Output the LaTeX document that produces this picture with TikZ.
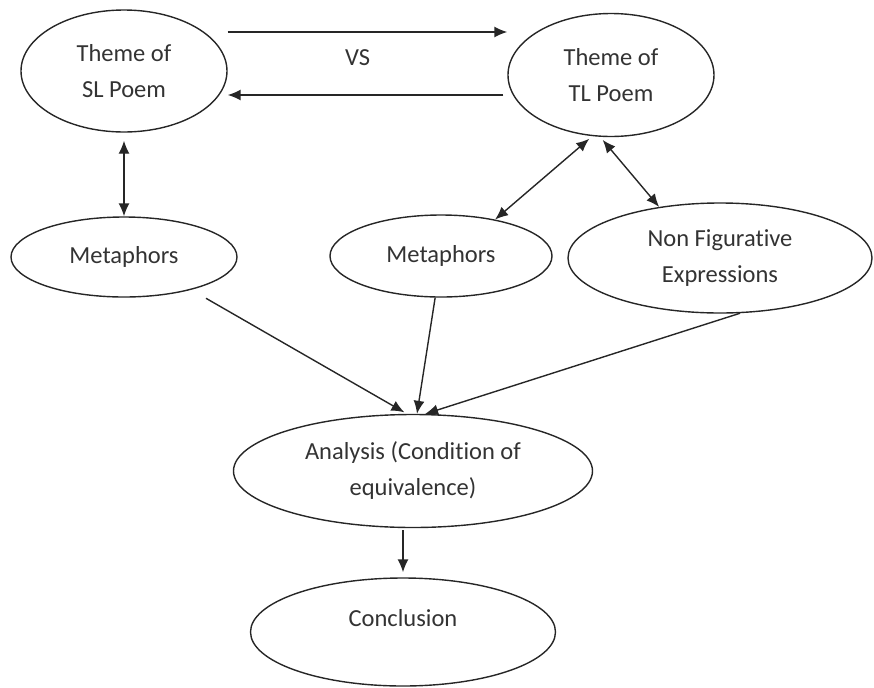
\documentclass[tikz,border=0pt]{standalone}
\usepackage{fontspec}
\setmainfont{Carlito}[Ligatures=NoCommon]
\usepackage{tikz}
\usetikzlibrary{shapes.geometric, arrows.meta, positioning}

\begin{document}
\begin{tikzpicture}[>={Latex[length=6.5pt,width=5.5pt]}, line width=0.7pt, draw=black!85,
        bubble/.style={ellipse, draw=black!85, inner sep=0pt, align=center, text=black!80,
            font=\fontsize{12.25}{18}\selectfont}]
        \useasboundingbox (-62pt,35.5pt) rectangle (375pt,-308pt);

        \node[bubble, minimum width=103pt, minimum height=61pt] (SL) at (0,0) {Theme of\\SL Poem};
        \node[bubble, minimum width=103pt, minimum height=61.5pt] (TL) [right of=SL, node distance=243.5pt, yshift=-2pt] {Theme of\\TL Poem};
        \node[bubble, minimum width=113pt, minimum height=40pt] (MetL) [below of=SL, node distance=93pt] {Metaphors};
        \node[bubble, minimum width=111pt, minimum height=41pt] (MetM) [below of=TL, node distance=90.5pt, xshift=-85pt] {Metaphors};
        \node[bubble, minimum width=152pt, minimum height=55pt] (NonFig) [below of=TL, node distance=91.5pt, xshift=54.5pt] {Non Figurative\\Expressions};
        \node[bubble, minimum width=179.5pt, minimum height=56.5pt] (Ana) [below of=MetM, node distance=107.5pt, xshift=-14pt] {Analysis (Condition of\\equivalence)};
        \node[bubble, minimum width=152.5pt, minimum height=54pt] (Concl) [below of=Ana, node distance=80.5pt, xshift=-5pt] {Conclusion\\[-4pt]\mbox{}};

        % theme vs theme
        \coordinate (vsTop) at ([yshift=19.5pt]SL.east);
        \coordinate (vsBot) at ([xshift=-2pt,yshift=-10pt]TL.west);
        \draw[->] (vsTop) -- (vsTop -| TL.west)
            node[pos=0.465, yshift=-13pt, text=black!80, font=\fontsize{12.25}{18}\selectfont] (vs) {VS};
        \draw[->] (vsBot) -- (vsBot -| SL.east);

        \path[<->]
            (SL) edge[shorten <=4pt] (MetL)
            (TL.253) edge[shorten <=2pt] (MetM.34)
            (TL.260) edge[shorten <=2pt] (NonFig.140);

        \path[->]
            (MetL.334) edge[shorten <=8.5pt, shorten >=1.5pt] (Ana.96)
            (MetM.262) edge (Ana.86)
            (NonFig.290) edge (Ana.78)
            (Concl.north |- Ana.south) edge[shorten <=1pt, shorten >=2.5pt] (Concl.north);
    \end{tikzpicture}
\end{document}
